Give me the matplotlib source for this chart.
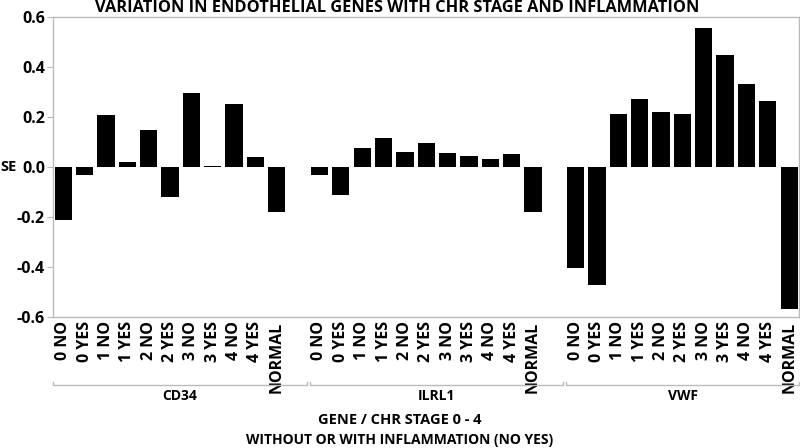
import matplotlib
matplotlib.use("Agg")
import matplotlib.pyplot as plt
from matplotlib.transforms import blended_transform_factory

plt.rcParams['font.family'] = ['Open Sans', 'DejaVu Sans']
plt.rcParams['font.weight'] = 'bold'

genes = ["CD34", "ILRL1", "VWF"]
levels = ["0 NO", "0 YES", "1 NO", "1 YES", "2 NO", "2 YES",
          "3 NO", "3 YES", "4 NO", "4 YES", "NORMAL"]
cd34 = [-0.212, -0.031, 0.207, 0.019, 0.149, -0.121, 0.297, 0.003, 0.253, 0.041, -0.181]
ilrl1 = [-0.031, -0.111, 0.077, 0.116, 0.059, 0.097, 0.055, 0.044, 0.033, 0.053, -0.181]
vwf = [-0.405, -0.472, 0.213, 0.273, 0.221, 0.212, 0.557, 0.447, 0.332, 0.264, -0.569]
series = [cd34, ilrl1, vwf]

fig = plt.figure(figsize=(8, 4.48), dpi=100)
ax = fig.add_axes([0.0666, 0.292, 0.9324, 0.67])

gap = len(levels) + 1
xs = []
labels = []
for g, vals in enumerate(series):
    pos = [g * gap + i for i in range(len(levels))]
    ax.bar(pos, vals, width=0.81, color="black")
    xs += pos
    labels += levels

ax.set_xlim(-0.47, 2 * gap + len(levels) - 1 + 0.47)
ax.set_ylim(-0.6, 0.6)
ax.set_yticks([-0.6, -0.4, -0.2, 0.0, 0.2, 0.4, 0.6])
ax.set_yticklabels(["-0.6", "-0.4", "-0.2", "0.0", "0.2", "0.4", "0.6"])
ax.set_xticks(xs)
ax.set_xticklabels(labels, rotation=90)
ax.tick_params(axis="x", length=0, pad=3, labelsize=11.5)
ax.tick_params(axis="y", length=4, pad=2, color="#bbbbbb", labelsize=11.5)
for s in ax.spines.values():
    s.set_color("#bbbbbb")
    s.set_linewidth(1)

# SE label sits at the far left, level with zero
ty = blended_transform_factory(fig.transFigure, ax.transData)
fig.text(0.001, 0.0, "SE", transform=ty, ha="left", va="center", fontsize=10.5,
         fontweight="bold")
fig.text(0.497, 1 - 12 / 448, "VARIATION IN ENDOTHELIAL GENES WITH CHR STAGE AND INFLAMMATION",
         ha="center", va="baseline", fontsize=11.8, fontweight="bold")

tr = blended_transform_factory(ax.transData, fig.transFigure)
y_br = 1 - 385 / 448
edges = [(-0.47, 11.4), (11.55, 23.4), (23.55, 34.47)]
for (a, b), name in zip(edges, genes):
    ax.plot([a, a, b, b], [y_br + 0.006, y_br, y_br, y_br + 0.006], color="#bbbbbb",
            lw=1, transform=tr, clip_on=False)
    ax.text((a + b) / 2, 1 - 396 / 448, name, transform=tr, ha="center", va="center",
            fontsize=10, fontweight="bold")

fig.text(0.5, 1 - 420 / 448, "GENE / CHR STAGE 0 - 4", ha="center", va="center",
         fontsize=10.5, fontweight="bold")
fig.text(0.5, 1 - 440 / 448, "WITHOUT OR WITH INFLAMMATION (NO YES)", ha="center",
         va="center", fontsize=10, fontweight="bold")

fig.savefig("out.png", dpi=100)
